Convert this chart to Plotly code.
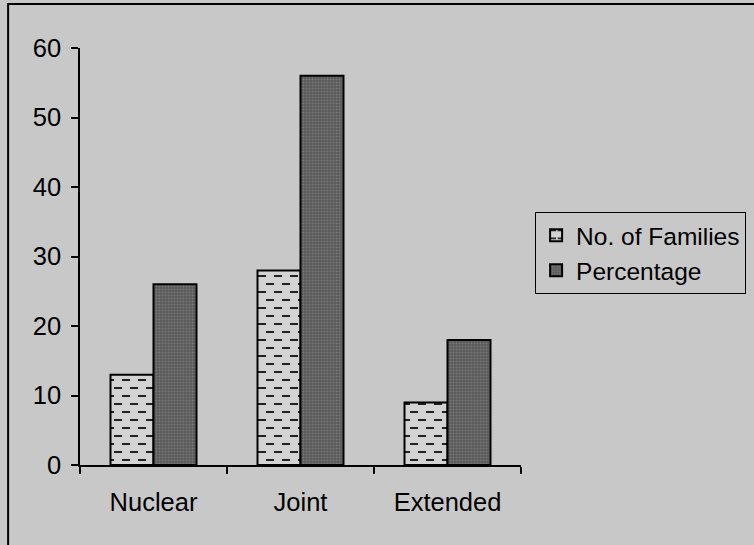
import plotly.graph_objects as go

# Family type survey: number of families and their share (%)
family_types = ["Nuclear", "Joint", "Extended"]
num_families = [13, 28, 9]
percentage = [26, 56, 18]

series_names = ["No. of Families", "Percentage"]
y_ticks = [0, 10, 20, 30, 40, 50, 60]

BG = "#c8c8c8"
FONT = dict(family="Liberation Sans, Arial, sans-serif", size=25.5, color="black")

fig = go.Figure()
fig.add_trace(go.Bar(
    x=family_types, y=num_families, name=series_names[0],
    marker=dict(
        color="#d3d3d3",
        line=dict(color="black", width=2),
        pattern=dict(shape="-", fgcolor="#222222", bgcolor="#d3d3d3",
                     size=16, solidity=0.12, fillmode="overlay"),
    ),
))
fig.add_trace(go.Bar(
    x=family_types, y=percentage, name=series_names[1],
    marker=dict(
        color="#585858",
        line=dict(color="black", width=2),
        pattern=dict(shape=".", fgcolor="#9a9a9a", bgcolor="#585858",
                     size=3, solidity=0.35, fillmode="overlay"),
    ),
))

fig.update_layout(
    width=754, height=545,
    margin=dict(l=80, r=233, t=48, b=80, autoexpand=False),
    paper_bgcolor=BG, plot_bgcolor=BG,
    font=FONT,
    barmode="group", bargap=0.415, bargroupgap=0,
    showlegend=True,
    legend=dict(
        x=1.032, xanchor="left", y=0.607, yanchor="top",
        bgcolor=BG, bordercolor="black", borderwidth=1,
        font=dict(family=FONT["family"], size=24.5, color="black"),
        tracegroupgap=0,
    ),
    xaxis=dict(
        showline=True, linecolor="black", linewidth=1.5,
        ticks="outside", ticklen=7, tickcolor="black", tickwidth=1.5,
        tickson="boundaries", showgrid=False, zeroline=False,
        ticklabelstandoff=14,
    ),
    yaxis=dict(
        range=[0, 60], tickvals=y_ticks,
        showline=True, linecolor="black", linewidth=1.5,
        ticks="outside", ticklen=7, tickcolor="black", tickwidth=1.5,
        showgrid=False, zeroline=False, ticklabelstandoff=5,
    ),
    shapes=[dict(
        type="rect", xref="paper", yref="paper",
        x0=-0.163, x1=1.6, y0=-0.25, y1=1.1055,
        line=dict(color="black", width=2), fillcolor="rgba(0,0,0,0)",
    )],
)

# Turn the plain horizontal-line fill into short staggered dashes
post_js = """
var gd = document.getElementById('{plot_id}');
function dashify() {
  gd.querySelectorAll('pattern path').forEach(function (path) {
    path.setAttribute('d', 'M2,4H10M10,12H18M-6,12H2');
    path.setAttribute('stroke-width', '2.2');
    path.setAttribute('opacity', '1');
    path.style.strokeWidth = '2.2px';
    path.style.opacity = '1';
    path.style.stroke = '#222222';
  });
}
dashify();
setTimeout(dashify, 50);
setTimeout(dashify, 300);
gd.on('plotly_afterplot', dashify);
"""

fig.write_html("out.html", post_script=post_js)
